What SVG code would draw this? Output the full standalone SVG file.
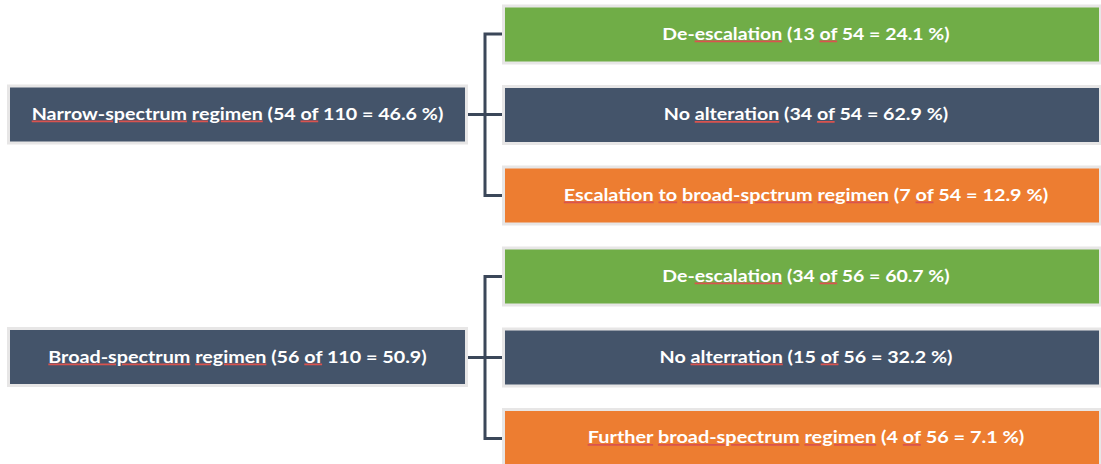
<svg xmlns="http://www.w3.org/2000/svg" width="1101" height="464" viewBox="0 0 1101 464">
<style>
.box{stroke:#e7e6e6;stroke-width:3}
.slate{fill:#44546a}
.green{fill:#70ad47}
.orange{fill:#ed7d31}
.t{font-family:Lato,"Open Sans","Liberation Sans",sans-serif;font-weight:700;font-size:17.5px;fill:#ffffff;text-anchor:middle}
.sp{fill:#d9534f;text-decoration:underline;text-decoration-thickness:1px}
.w{fill:#ffffff}
.conn{fill:none;stroke:#3b4759;stroke-width:3}
</style>
<rect width="1101" height="464" fill="#ffffff"/>
<g id="connectors">
<path class="conn" d="M468 114.5 H485 M503 34 H485 V195.5 H503 M485 114.5 H503"/>
<path class="conn" d="M468 357.5 H485 M503 276.5 H485 V438.5 H503 M485 357.5 H503"/>
</g>
<g id="narrow">
<rect class="box slate" x="8.5" y="86" width="458" height="57"/>
<text class="t" x="237.5" y="119.5" textLength="411.6" lengthAdjust="spacingAndGlyphs"><tspan class="sp"><tspan class="w">Narrow-spectrum</tspan></tspan> <tspan class="sp"><tspan class="w">regimen</tspan></tspan> (54 <tspan class="sp"><tspan class="w">of</tspan></tspan> 110 = 46.6 %)</text>
</g>
<g id="narrow-deesc">
<rect class="box green" x="503.5" y="6" width="597" height="57"/>
<text class="t" x="806" y="39.5" textLength="287.3" lengthAdjust="spacingAndGlyphs">De-<tspan class="sp"><tspan class="w">escalation</tspan></tspan> (13 <tspan class="sp"><tspan class="w">of</tspan></tspan> 54 = 24.1 %)</text>
</g>
<g id="narrow-noalt">
<rect class="box slate" x="503.5" y="86.5" width="597" height="57"/>
<text class="t" x="806" y="120" textLength="284.3" lengthAdjust="spacingAndGlyphs">No <tspan class="sp"><tspan class="w">alteration</tspan></tspan> (34 <tspan class="sp"><tspan class="w">of</tspan></tspan> 54 = 62.9 %)</text>
</g>
<g id="narrow-esc">
<rect class="box orange" x="503.5" y="167" width="597" height="57"/>
<text class="t" x="806" y="200.5" textLength="484.3" lengthAdjust="spacingAndGlyphs"><tspan class="sp"><tspan class="w">Escalation</tspan></tspan> <tspan class="sp"><tspan class="w">to</tspan></tspan> <tspan class="sp"><tspan class="w">broad-spctrum</tspan></tspan> <tspan class="sp"><tspan class="w">regimen</tspan></tspan> (7 <tspan class="sp"><tspan class="w">of</tspan></tspan> 54 = 12.9 %)</text>
</g>
<g id="broad">
<rect class="box slate" x="8.5" y="328.5" width="458" height="57"/>
<text class="t" x="237.5" y="362.5" textLength="378.4" lengthAdjust="spacingAndGlyphs"><tspan class="sp"><tspan class="w">Broad-spectrum</tspan></tspan> <tspan class="sp"><tspan class="w">regimen</tspan></tspan> (56 <tspan class="sp"><tspan class="w">of</tspan></tspan> 110 = 50.9)</text>
</g>
<g id="broad-deesc">
<rect class="box green" x="503.5" y="248" width="597" height="57"/>
<text class="t" x="806" y="281.5" textLength="287.3" lengthAdjust="spacingAndGlyphs">De-<tspan class="sp"><tspan class="w">escalation</tspan></tspan> (34 <tspan class="sp"><tspan class="w">of</tspan></tspan> 56 = 60.7 %)</text>
</g>
<g id="broad-noalt">
<rect class="box slate" x="503.5" y="329" width="597" height="57"/>
<text class="t" x="806" y="362.5" textLength="293" lengthAdjust="spacingAndGlyphs">No <tspan class="sp"><tspan class="w">alterration</tspan></tspan> (15 <tspan class="sp"><tspan class="w">of</tspan></tspan> 56 = 32.2 %)</text>
</g>
<g id="broad-further">
<rect class="box orange" x="503.5" y="409.5" width="597" height="57"/>
<text class="t" x="806" y="443" textLength="436.6" lengthAdjust="spacingAndGlyphs"><tspan class="sp"><tspan class="w">Further</tspan></tspan> <tspan class="sp"><tspan class="w">broad-spectrum</tspan></tspan> <tspan class="sp"><tspan class="w">regimen</tspan></tspan> (4 <tspan class="sp"><tspan class="w">of</tspan></tspan> 56 = 7.1 %)</text>
</g>
</svg>
